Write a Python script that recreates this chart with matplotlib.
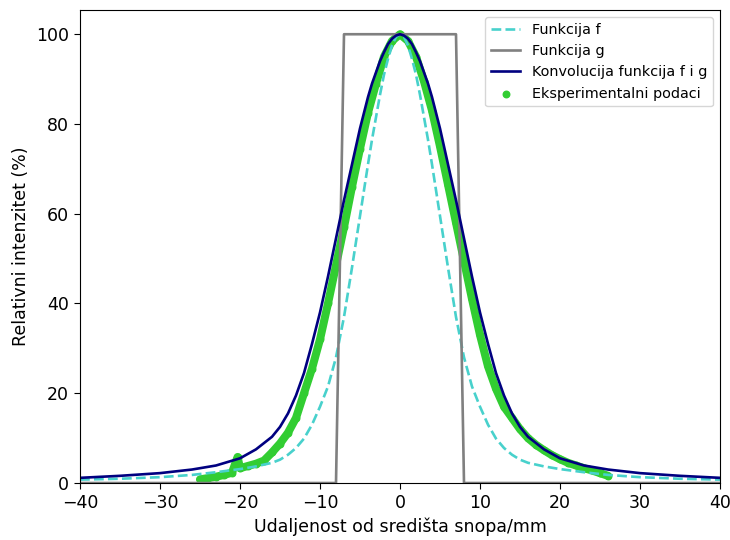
import matplotlib
matplotlib.use("Agg")
import matplotlib.pyplot as plt

# half-profiles (curves are symmetric about 0)
half_x = [0, 0.5, 1, 1.5, 2, 2.5, 3, 3.5, 4, 5, 6, 7, 8, 9, 10, 11, 12, 13, 14, 15, 16, 18, 20, 23, 26, 30, 35, 40]
f_half = [100, 99.4, 97.5, 94.5, 91, 86.5, 81.5, 76.5, 71, 59.5, 48, 37, 28, 21.5, 17, 13, 9.9, 7.8, 6.3, 5.2, 4.5, 3.7, 3.1, 2.4, 1.8, 1.3, 0.95, 0.75]
conv_half = [100, 99.7, 99, 97.8, 96, 94, 91.5, 89, 86, 79, 71, 63, 54.5, 46, 38, 31, 24.5, 19.5, 15.5, 12.5, 10.3, 7.5, 5.5, 3.9, 3.0, 2.2, 1.6, 1.15]

curve_x = [-v for v in half_x[:0:-1]] + half_x
f_y = f_half[:0:-1] + f_half
conv_y = conv_half[:0:-1] + conv_half

g_x = [-40, -8, -7, 7, 8, 40]
g_y = [0, 0, 100, 100, 0, 0]

exp_x = [-25, -24, -23, -22, -21, -20.3, -20, -19, -18, -17, -16, -15, -14, -13, -12, -11, -10, -9, -8, -7,
         -6, -5, -4, -3, -2, -1, 0, 1, 2, 3, 4, 5, 6, 7, 8, 9, 10, 11, 12, 13, 14, 15, 16, 17, 18, 19, 20,
         21, 22, 23, 24, 25, 26]
exp_y = [0.8, 1.1, 1.4, 1.8, 2.3, 5.8, 3.3, 3.8, 4.3, 5.0, 6.8, 8.8, 11.2, 14.5, 20, 25.5, 32, 40, 48.5, 57,
         66, 74.5, 82.5, 89, 95, 98.5, 100, 98.5, 95, 89.5, 83, 75, 66.5, 58, 49.5, 41, 33, 26, 21, 17,
         14.5, 12, 10, 8.5, 7.3, 6.2, 5.3, 4.5, 3.9, 3.3, 2.8, 2.2, 1.6]

plt.rcParams['font.size'] = 12.5
plt.rcParams['xtick.major.size'] = 4.4
plt.rcParams['ytick.major.size'] = 4.4

fig = plt.figure(figsize=(7.3, 5.4), dpi=100)
ax = fig.add_axes([80 / 730, 1 - 483 / 540, 640 / 730, 473 / 540])

ax.plot(exp_x, exp_y, color='limegreen', lw=5.8, solid_capstyle='round', solid_joinstyle='round', zorder=0.9)
ax.scatter(exp_x, exp_y, color='limegreen', s=22, label='Eksperimentalni podaci', zorder=1)
ax.plot(curve_x, f_y, '--', color='mediumturquoise', lw=1.9, label='Funkcija f')
ax.plot(g_x, g_y, color='gray', lw=1.9, label='Funkcija g')
ax.plot(curve_x, conv_y, color='navy', lw=1.9, label='Konvolucija funkcija f i g')

ax.set_xlim(-40, 40)
ax.set_ylim(0, 105.4)
ax.set_xlabel('Udaljenost od središta snopa/mm')
ax.set_ylabel('Relativni intenzitet (%)')

handles, labels = ax.get_legend_handles_labels()
order = [1, 2, 3, 0]
ax.legend([handles[i] for i in order], [labels[i] for i in order], loc='upper right', fontsize=10.4)

fig.savefig('out.png', dpi=100)
